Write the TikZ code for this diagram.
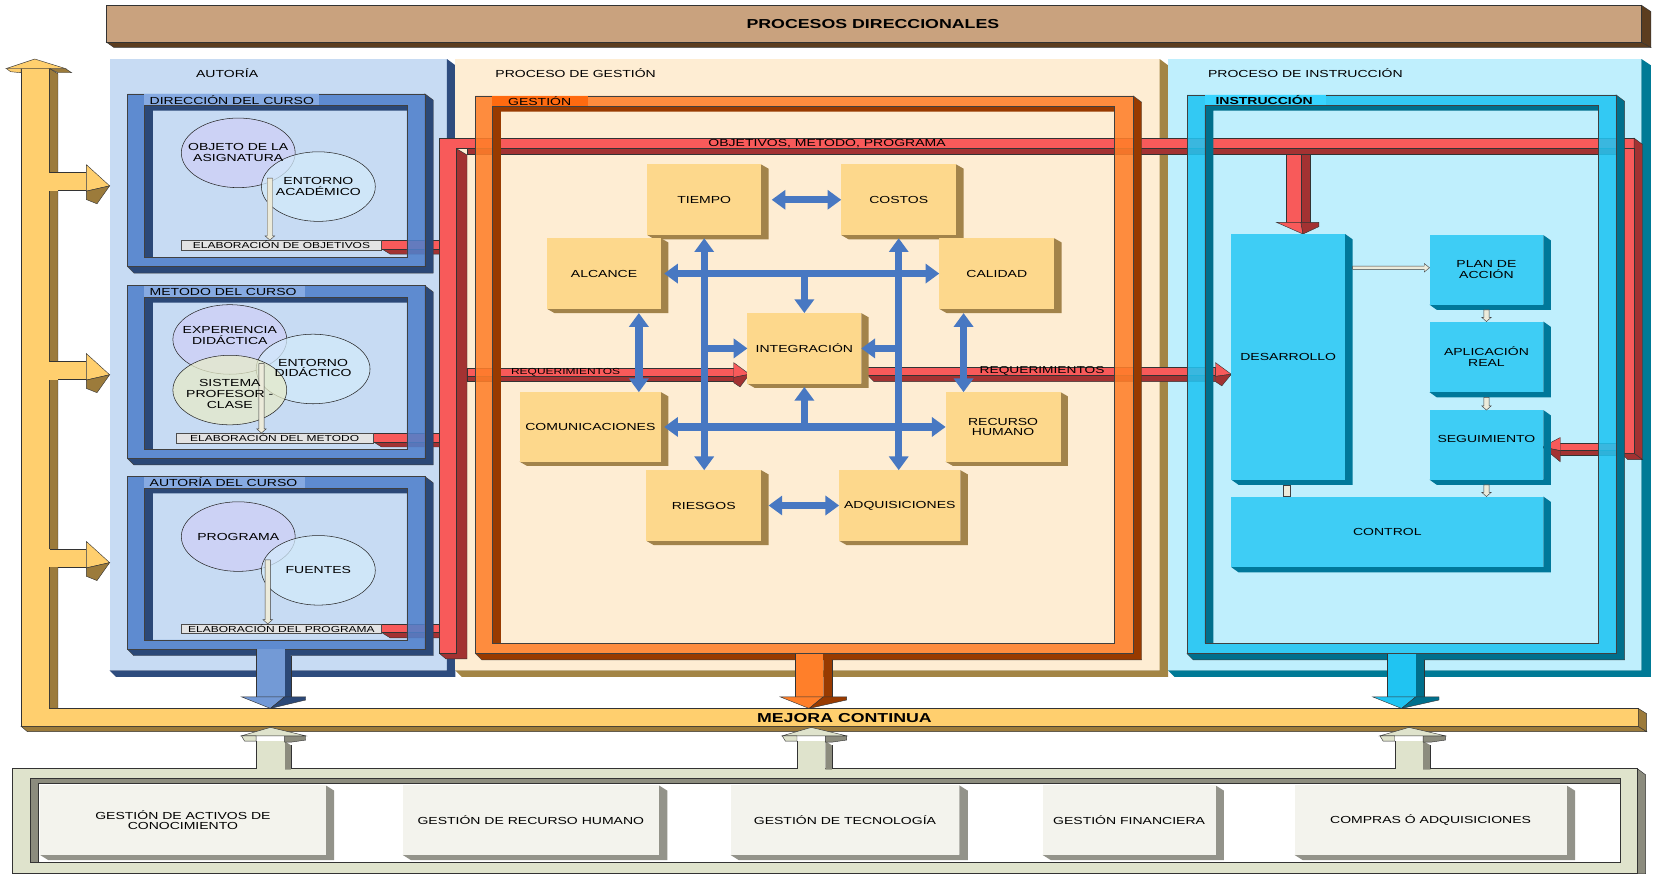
\documentclass[tikz,border=0pt]{standalone}
\usepackage{fontspec}
\setmainfont[FakeStretch=1.37]{Liberation Sans}
\usetikzlibrary{shapes.geometric,arrows.meta,calc}

\definecolor{ttlF}{HTML}{C9A27E}
\definecolor{ttlD}{HTML}{5C3D1F}
\definecolor{yF}{HTML}{FFCF6E}
\definecolor{yD}{HTML}{9C7B3B}
\definecolor{auBg}{HTML}{C7DBF3}
\definecolor{auEdge}{HTML}{2E4C7E}
\definecolor{geBg}{HTML}{FEEDD3}
\definecolor{geEdge}{HTML}{A38545}
\definecolor{inBg}{HTML}{BFEFFD}
\definecolor{inEdge}{HTML}{007A96}
\definecolor{blFace}{HTML}{5080CC}
\definecolor{blWall}{HTML}{2B4877}
\definecolor{blTag}{HTML}{86AAE2}
\definecolor{orFace}{HTML}{FF7F2A}
\definecolor{orWall}{HTML}{983A00}
\definecolor{orTag}{HTML}{FF6A10}
\definecolor{cyFace}{HTML}{20C4F2}
\definecolor{cyWall}{HTML}{006F8C}
\definecolor{cyTag}{HTML}{38D4FF}
\definecolor{rdF}{HTML}{F85A5A}
\definecolor{rdD}{HTML}{A33232}
\definecolor{gbF}{HTML}{FDD88C}
\definecolor{gbS}{HTML}{A2834A}
\definecolor{cbF}{HTML}{3ECDF5}
\definecolor{cbS}{HTML}{00789A}
\definecolor{btF}{HTML}{DFE3CC}
\definecolor{btD}{HTML}{8C8C7E}
\definecolor{bbF}{HTML}{F3F3ED}
\definecolor{bbS}{HTML}{93938A}
\definecolor{arB}{HTML}{4878C2}
\definecolor{pale}{HTML}{ECEBDB}
\definecolor{elA}{HTML}{CFCFF7}
\definecolor{elB}{HTML}{D3EAFB}
\definecolor{elC}{HTML}{E7EBC9}
\definecolor{elab}{HTML}{E3E3E3}

\newcommand\fA{\fontsize{9.7}{10.3}\selectfont}
\newcommand\fS{\fontsize{8.3}{9}\selectfont}
\newcommand\fR{\fontsize{9.5}{10}\selectfont}
\newcommand\fT{\fontsize{12.3}{14}\selectfont\bfseries}

% depth of the extruded side of raised boxes
\newcommand\dX{7}
\newcommand\dY{4}

% raised box: dark extrusion, then the face as a named node
% #1 name, #2 x1, #3 y1, #4 x2, #5 y2, #6 face, #7 side, #8 text
\newcommand\raisedbox[8]{%
  \fill[#7] (#4,#3) -- ({#4+\dX},{#3+\dY}) -- ({#4+\dX},{#5+\dY}) -- ({#2+\dX},{#5+\dY}) -- (#2,#5) -- (#4,#5) -- cycle;
  \node[boxn, fill=#6, minimum width={#4-#2}, minimum height={#5-#3}] (#1) at ({(#2+#4)/2},{(#3+#5)/2}) {#8};}

% open 3D frame: #1-#4 outer box, #5-#8 opening, #9 colour prefix
\newcommand\ringframe[9]{%
  \path[fill=#9Wall, draw=black!75, line width=.4pt] (#3,#2) -- ({#3+8},{#2+6}) -- ({#3+8},{#4+6}) -- ({#1+6},{#4+6}) -- (#1,#4) -- (#3,#4) -- cycle;
  \fill[#9Face, fill opacity=.88, even odd rule] (#1,#2) rectangle (#3,#4) (#5,#6) rectangle (#7,#8);
  \fill[#9Wall] (#5,#6) -- (#7,#6) -- (#7,{#6+5}) -- ({#5+8},{#6+5}) -- ({#5+8},#8) -- (#5,#8) -- cycle;
  \draw[black!75, line width=.5pt] (#1,#2) rectangle (#3,#4) (#5,#6) rectangle (#7,#8);}

% side branch of the left column, centred on y=#1
\newcommand\sidearrow[1]{%
  \fill[yF] (46,{#1-8.5}) rectangle (82,{#1+8.5});
  \draw[black!80, line width=.4pt] (47,{#1-8.5}) -- (82,{#1-8.5}) (55,{#1+8.5}) -- (82,{#1+8.5});
  \path[fill=yF, draw=black!80, line width=.4pt] (82,{#1-16}) -- (104,{#1+4}) -- (82,{#1+9}) -- cycle;
  \path[fill=yD, draw=black!80, line width=.4pt] (82,{#1+9}) -- (104,{#1+4}) -- (92,{#1+21}) -- (82,{#1+17}) -- cycle;}

% arrow from a frame down to the improvement bar
\newcommand\dropArrow[6]{%
  \fill[#6] (#2,#4) -- (#3,{#4+6}) -- (#3,661) -- (#2,661) -- cycle;
  \fill[#5] (#1,#4) rectangle (#2,661);
  \draw[black!80, line width=.4pt] (#1,#4) -- (#1,661) (#3,{#4+6}) -- (#3,661);
  \path[fill=#5, draw=black!80, line width=.4pt] ({#1-14},661) -- (#2,661) -- ({(#1+#2)/2},672) -- cycle;
  \path[fill=#6, draw=black!80, line width=.4pt] (#2,661) -- ({#3+14},661) -- ({#3+14},664) -- ({(#1+#2)/2},672) -- cycle;}

% arrow from the support area up to the improvement bar
\newcommand\riseArrow[3]{%
  \fill[btD] (#2,703) -- (#3,707) -- (#3,730) -- (#2,730) -- cycle;
  \fill[btF] (#1,703) rectangle (#2,730);
  \draw[black!80, line width=.4pt] (#1,703) -- (#1,729) (#3,707) -- (#3,729);
  \path[fill=btD, draw=black!80, line width=.4pt] (#2,698) -- ({#3+14},698) -- ({#3+14},702) -- (#3,704) -- (#2,704) -- cycle;
  \path[fill=btF, draw=black!80, line width=.4pt] ({#1-14},698) -- ({(#1+#2)/2},690) -- ({#3+14},698) -- cycle;
  \path[fill=btF, draw=black!80, line width=.4pt] ({#1-14},698) -- (#1,698) -- (#1,703) -- ({#1-11},703) -- cycle;}

% thin pale arrows between named points
\newcommand\paledown[2]{%
  \path[palearrow] ($(#1)+(-2.5,0)$) -- ($(#2)+(-2.5,-4)$) -- ($(#2)+(-4.5,-4)$) -- (#2) -- ($(#2)+(4.5,-4)$) -- ($(#2)+(2.5,-4)$) -- ($(#1)+(2.5,0)$) -- cycle;}
\newcommand\paleright[2]{%
  \path[palearrow] ($(#1)+(0,-1.5)$) -- ($(#2)+(-5,-1.5)$) -- ($(#2)+(-5,-4)$) -- (#2) -- ($(#2)+(-5,4)$) -- ($(#2)+(-5,1.5)$) -- ($(#1)+(0,1.5)$) -- cycle;}

% red feed from an elaboration box into the red trunk
\newcommand\redFeed[2]{%
  \path[fill=rdD, draw=black!80, line width=.4pt] (#1,{#2+8}) -- (417,{#2+8}) -- (417,{#2+13}) -- ({#1+8},{#2+13}) -- cycle;
  \path[fill=rdF, draw=black!80, line width=.4pt] (#1,#2) rectangle (417,{#2+8});}

\begin{document}
\begin{tikzpicture}[x=1pt,y=-1pt,
  boxn/.style={inner sep=0pt, outer sep=0pt, align=center, font=\fA, text=black},
  lbl/.style={inner sep=0pt, outer sep=0pt, font=\fA, text=black, align=center},
  ol/.style={draw=black!80, line width=.4pt},
  ell/.style={ellipse, draw=black!85, line width=.5pt, fill opacity=.75, minimum width=108pt, minimum height=66pt, inner sep=0pt},
  palearrow/.style={fill=pale, draw=black!75, line width=.4pt},
  elabbox/.style={draw=black!70, line width=.4pt, fill=elab, inner sep=0pt, font=\fS, text=black},
  bdouble/.style={draw=arB, line width=7pt, {Triangle[width=18pt,length=13pt]}-{Triangle[width=18pt,length=13pt]}},
  bsingle/.style={draw=arB, line width=7pt, -{Triangle[width=18pt,length=13pt]}}]

\useasboundingbox (0,0) rectangle (1568,829);
\fill[white] (0,0) rectangle (1568,829);

% ---------- title bar ----------
\path[fill=ttlD, ol] (101,40) -- (1557,40) -- (1566,45) -- (108,45) -- cycle;
\path[fill=ttlD, ol] (1557,5) -- (1566,11) -- (1566,45) -- (1557,40) -- cycle;
\path[fill=ttlF, ol] (101,5) rectangle (1557,40);
\node[lbl, font=\fT] (titulo) at (828,22.5) {PROCESOS DIRECCIONALES};

% ---------- process panels ----------
\fill[auBg] (104,56) rectangle (424,636);
\fill[auEdge] (424,56) -- (432,62) -- (432,642) -- (110,642) -- (104,636) -- (424,636) -- cycle;
\fill[geBg] (432,56) rectangle (1100,636);
\fill[geEdge] (1100,56) -- (1108,62) -- (1108,642) -- (438,642) -- (432,636) -- (1100,636) -- cycle;
\fill[inBg] (1108,56) rectangle (1557,636);
\fill[inEdge] (1557,56) -- (1566,62) -- (1566,642) -- (1114,642) -- (1108,636) -- (1557,636) -- cycle;

\node[lbl, anchor=west] (pAut) at (186,69.5) {AUTORÍA};
\node[lbl, anchor=west] (pGes) at (470,69.5) {PROCESO DE GESTIÓN};
\node[lbl, anchor=west] (pIns) at (1146,69.5) {PROCESO DE INSTRUCCIÓN};

% ---------- left column and continuous-improvement bar ----------
\path[fill=yF, ol] (20,65) -- (47,65) -- (47,672) -- (1554,672) -- (1554,689) -- (20,689) -- cycle;
\path[fill=yD, ol] (47,65) -- (55,70) -- (55,672) -- (47,672) -- cycle;
\path[fill=yD, ol] (20,689) -- (1554,689) -- (1562,694) -- (26,694) -- cycle;
\path[fill=yD, ol] (1554,672) -- (1562,677) -- (1562,694) -- (1554,689) -- cycle;
\path[fill=yF, ol] (6,65) -- (33,56) -- (62,65) -- cycle;
\path[fill=yD, ol] (47,65) -- (62,65) -- (68,69) -- (55,69) -- cycle;
\path[fill=yF, ol] (6,65) -- (20,65) -- (20,69) -- (10,68) -- cycle;
\sidearrow{172.3}
\sidearrow{351.5}
\sidearrow{529.7}
\node[lbl, font=\fT] (mejora) at (801,681) {MEJORA CONTINUA};

% ---------- support processes ----------
\path[fill=btD, ol] (1553,729) -- (1561,735) -- (1561,829) -- (1553,829) -- cycle;
\path[fill=btF, ol] (12,729) rectangle (1553,828);
\fill[white] (29,738) rectangle (1537,818);
\path[fill=btD, ol] (29,738) -- (1537,738) -- (1537,743) -- (36,743) -- (36,818) -- (29,818) -- cycle;
\draw[black!80, line width=.4pt] (29,738) rectangle (1537,818);

\renewcommand\dX{8}\renewcommand\dY{5}
\raisedbox{activos}{38}{745}{309}{811}{bbF}{bbS}{GESTIÓN DE ACTIVOS DE\\CONOCIMIENTO}
\raisedbox{rrhh}{382}{745}{625}{811}{bbF}{bbS}{GESTIÓN DE RECURSO HUMANO}
\raisedbox{tecno}{693}{745}{910}{811}{bbF}{bbS}{GESTIÓN DE TECNOLOGÍA}
\raisedbox{finan}{989}{745}{1153}{811}{bbF}{bbS}{GESTIÓN FINANCIERA}
\raisedbox{compras}{1228}{745}{1486}{811}{bbF}{bbS}{COMPRAS Ó ADQUISICIONES}

\riseArrow{243}{270}{276}
\riseArrow{756}{783}{789}
\riseArrow{1323}{1350}{1357}

% ---------- red information flows ----------
\path[fill=rdD, ol] (433,141) -- (443,147) -- (443,625) -- (423,625) -- (417,620) -- (433,620) -- cycle;
\path[fill=rdF, ol] (417,131) -- (1550,131) -- (1550,141) -- (433,141) -- (433,620) -- (417,620) -- cycle;
\path[fill=rdD, ol] (443,141) rectangle (1538,146);
\path[fill=rdD, ol] (1550,131) -- (1558,137) -- (1558,436) -- (1550,430) -- cycle;
\path[fill=rdF, ol] (1538,141) rectangle (1550,430);
\path[fill=rdD, ol] (1538,430) -- (1550,430) -- (1558,436) -- (1544,436) -- cycle;
% feed into SEGUIMIENTO
\path[fill=rdD, ol] (1478,427) rectangle (1538,432);
\path[fill=rdF, ol] (1478,420) rectangle (1538,427);
\path[fill=rdF, ol] (1480,415) -- (1463,424) -- (1480,427.5) -- cycle;
\path[fill=rdD, ol] (1463,424) -- (1480,427.5) -- (1480,438) -- cycle;
% branch down to DESARROLLO
\path[fill=rdD, ol] (1234,146) rectangle (1243,212);
\path[fill=rdF, ol] (1220,146) rectangle (1234,212);
\path[fill=rdF, ol] (1211,211) -- (1234,211) -- (1236,222) -- cycle;
\path[fill=rdD, ol] (1234,211) -- (1251,211) -- (1251,215) -- (1236,222) -- cycle;
% requirements, left part
\path[fill=rdD, ol] (443,357) rectangle (696,362);
\path[fill=rdF, ol] (443,349) rectangle (696,357);
\path[fill=rdF, ol] (696,344) -- (711,355) -- (696,358) -- cycle;
\path[fill=rdD, ol] (696,358) -- (711,355) -- (702,367) -- (696,363) -- cycle;
% requirements, right part
\path[fill=rdD, ol] (823,356) -- (1153,356) -- (1153,362) -- (829,362) -- cycle;
\path[fill=rdF, ol] (823,348) rectangle (1153,356);
\path[fill=rdF, ol] (1153,344) -- (1168,355) -- (1153,357) -- cycle;
\path[fill=rdD, ol] (1153,357) -- (1168,355) -- (1159,366) -- (1153,362) -- cycle;
% feeds from the elaboration boxes
\redFeed{362}{228}
\redFeed{354}{411}
\redFeed{362}{592}

% ---------- frames ----------
\ringframe{121}{89}{403}{253}{137}{100}{386}{244}{bl}
\ringframe{121}{271}{403}{435}{137}{282}{386}{426}{bl}
\ringframe{121}{452}{403}{616}{137}{463}{386}{607}{bl}
\ringframe{451}{91}{1075}{620}{467}{101}{1057}{610}{or}
\ringframe{1126}{90}{1533}{620}{1143}{100}{1516}{610}{cy}

\fill[blTag] (137,89.5) rectangle (303,99.5);
\fill[blTag] (137,271.5) rectangle (289,281.5);
\fill[blTag] (137,452.5) rectangle (289,462.5);
\fill[orTag] (467,91.5) rectangle (558,100.5);
\fill[cyTag] (1143,90.5) rectangle (1258,99.5);
\node[lbl, anchor=west] (tagDir) at (142,94.5) {DIRECCIÓN DEL CURSO};
\node[lbl, anchor=west] (tagMet) at (142,276.5) {METODO DEL CURSO};
\node[lbl, anchor=west] (tagAut) at (142,457.5) {AUTORÍA DEL CURSO};
\node[lbl, anchor=west] (tagGes) at (482,96.3) {GESTIÓN};
\node[lbl, anchor=west, font=\fA\bfseries] (tagIns) at (1153,95.3) {INSTRUCCIÓN};

\dropArrow{243}{270}{276}{616}{blFace!80!white}{blWall}
\dropArrow{754}{781}{789}{620}{orFace}{orWall}
\dropArrow{1316}{1343}{1351}{620}{cyFace}{cyWall}

% ---------- authoring: course direction ----------
\node[ell, fill=elA] (objeto) at (226,145) {};
\node[ell, fill=elB] (entAca) at (302,177) {};
\node[elabbox, minimum width=190pt, minimum height=9pt] (elab1) at (267,232.5) {ELABORACIÓN DE OBJETIVOS};
\coordinate (pa1) at (256,169);
\coordinate (pb1) at ($(elab1.north)+(-11,0)$);
\paledown{pa1}{pb1}
\node[lbl] (tObjeto) at (226,145) {OBJETO DE LA\\ASIGNATURA};
\node[lbl] (tEntAca) at (302,176.5) {ENTORNO\\ACADÉMICO};

% ---------- authoring: course method ----------
\node[ell, fill=elA] (experiencia) at (218,322) {};
\node[ell, fill=elB] (entDid) at (297,350) {};
\node[ell, fill=elC] (sistema) at (218,370) {};
\node[elabbox, minimum width=187pt, minimum height=9pt] (elab2) at (260.5,415.5) {ELABORACIÓN DEL METODO};
\coordinate (pa2) at (248,345);
\coordinate (pb2) at ($(elab2.north)+(-12.5,0)$);
\paledown{pa2}{pb2}
\node[lbl] (tExp) at (218,318) {EXPERIENCIA\\DIDÁCTICA};
\node[lbl] (tEntDid) at (297,349) {ENTORNO\\DIDÁCTICO};
\node[lbl] (tSis) at (218,374) {SISTEMA\\PROFESOR -\\CLASE};

% ---------- authoring: course authorship ----------
\node[ell, fill=elA] (programa) at (226,509) {};
\node[ell, fill=elB] (fuentes) at (302,541) {};
\node[elabbox, minimum width=190pt, minimum height=9pt] (elab3) at (267,596.5) {ELABORACIÓN DEL PROGRAMA};
\coordinate (pa3) at (254,531);
\coordinate (pb3) at ($(elab3.north)+(-13,0)$);
\paledown{pa3}{pb3}
\node[lbl] (tProg) at (226,509) {PROGRAMA};
\node[lbl] (tFuen) at (302,540.5) {FUENTES};

% ---------- management knowledge areas ----------
\renewcommand\dX{7}\renewcommand\dY{4}
\raisedbox{tiempo}{614}{156}{722}{223}{gbF}{gbS}{TIEMPO}
\raisedbox{costos}{798}{156}{907}{223}{gbF}{gbS}{COSTOS}
\raisedbox{alcance}{519}{226}{627}{293}{gbF}{gbS}{ALCANCE}
\raisedbox{calidad}{891}{226}{1000}{293}{gbF}{gbS}{CALIDAD}
\raisedbox{integ}{709}{297}{817}{364}{gbF}{gbS}{INTEGRACIÓN}
\raisedbox{comunic}{493}{372}{627}{438}{gbF}{gbS}{COMUNICACIONES}
\raisedbox{recurso}{897}{372}{1006}{438}{gbF}{gbS}{RECURSO\\HUMANO}
\raisedbox{riesgos}{613}{446}{722}{513}{gbF}{gbS}{RIESGOS}
\raisedbox{adquis}{796}{446}{911}{513}{gbF}{gbS}{ADQUISICIONES}

\draw[bdouble] ($(tiempo.east)+(10,0)$) -- (costos.west);
\draw[bdouble] ($(tiempo.south)+(0,3)$) -- (tiempo.south |- riesgos.north);
\draw[bdouble] ($(costos.south)+(0,3)$) -- (costos.south |- adquis.north);
\draw[bdouble] ($(alcance.east)+(3,0)$) -- (calidad.west);
\draw[bdouble] ($(comunic.east)+(3,0)$) -- (recurso.west);
\draw[bsingle] (integ.north |- alcance.east) -- (integ.north);
\draw[bsingle] (integ.south |- comunic.east) -- ($(integ.south)+(0,3)$);
\draw[bsingle] (tiempo.south |- integ.west) -- (integ.west);
\draw[bsingle] (costos.south |- integ.east) -- (integ.east);
\draw[bdouble] ($(alcance.south east)+(-21,4)$) -- ($(comunic.north east)+(-21,0)$);
\draw[bdouble] ($(calidad.south west)+(23,4)$) -- ($(recurso.north west)+(17,0)$);
\draw[bdouble] ($(riesgos.east)+(7,0)$) -- (adquis.west);

% ---------- instruction ----------
\renewcommand\dX{7}\renewcommand\dY{5}
\raisedbox{desarrollo}{1168}{222}{1276}{455}{cbF}{cbS}{DESARROLLO}
\raisedbox{plan}{1356}{223}{1464}{289}{cbF}{cbS}{PLAN DE\\ACCIÓN}
\raisedbox{aplic}{1356}{305}{1464}{372}{cbF}{cbS}{APLICACIÓN\\REAL}
\raisedbox{seguim}{1356}{389}{1464}{455}{cbF}{cbS}{}
\raisedbox{control}{1168}{471}{1464}{538}{cbF}{cbS}{CONTROL}
\node[lbl] (tSeg) at (1410,416.5) {SEGUIMIENTO};

\coordinate (dpA) at ($(desarrollo.east |- plan.west)+(7,-2)$);
\coordinate (dpB) at ($(plan.west)+(0,-2)$);
\paleright{dpA}{dpB}
\coordinate (paA) at ($(plan.south)+(0,5)$);
\paledown{paA}{aplic.north}
\coordinate (asA) at ($(aplic.south)+(0,5)$);
\paledown{asA}{seguim.north}
\coordinate (scA) at ($(seguim.south)+(0,5)$);
\coordinate (scB) at (seguim.south |- control.north);
\paledown{scA}{scB}
\path[palearrow] ($(desarrollo.south)+(-4.5,5)$) rectangle ($(desarrollo.south)+(1.5,16)$);

% ---------- labels on the red flows ----------
\node[lbl] (objLbl) at (784.5,136.5) {OBJETIVOS, METODO, PROGRAMA};
\node[lbl, font=\fS] (reqA) at (536.5,353.5) {REQUERIMIENTOS};
\node[lbl, font=\fR] (reqB) at (988.5,352) {REQUERIMIENTOS};

\end{tikzpicture}
\end{document}
